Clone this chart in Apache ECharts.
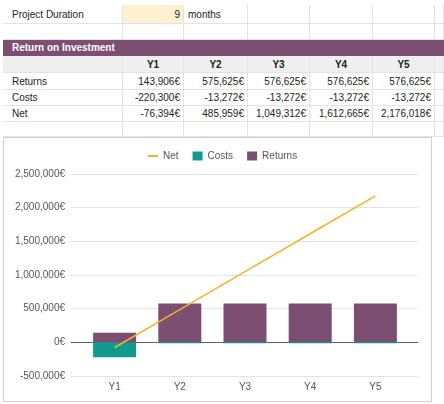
<!DOCTYPE html>
<html>
<head>
<meta charset="utf-8">
<script src="https://cdn.jsdelivr.net/npm/echarts@6/dist/echarts.min.js"></script>
<style>
  html, body { margin:0; padding:0; width:444px; height:404px; overflow:hidden; background:#fff; font-family:"Liberation Sans", Arial, sans-serif; }
  .cell { position:absolute; box-sizing:border-box; font-size:10px; color:#222; line-height:16px; white-space:nowrap; border-right:1px solid #e3e3e3; border-bottom:1px solid #e3e3e3; overflow:hidden; }
  #box { position:absolute; left:3px; top:137px; width:429px; height:265px; box-sizing:border-box; border:1px solid #cfcfcf; background:#fff; }
  #chart { position:absolute; left:0; top:0; width:444px; height:404px; }
</style>
</head>
<body>
<div id="sheet"></div>
<div id="box"></div>
<div id="chart"></div>
<script>
// ---- data ----
const categories = ['Y1', 'Y2', 'Y3', 'Y4', 'Y5'];
const returns = [143906, 575625, 576625, 576625, 576625];
const costs = [-220300, -13272, -13272, -13272, -13272];
const net = [-76394, 485959, 1049312, 1612665, 2176018];
const yTicks = [-500000, 0, 500000, 1000000, 1500000, 2000000, 2500000];
const projectDuration = 9;

const fmt = v => v.toLocaleString('en-US') + '€';

// ---- spreadsheet table ----
const colX = [3, 123, 184, 248, 310, 373, 435, 444];
const rowY = [5, 24, 40, 56, 73, 90, 106, 122, 137];
const sheet = document.getElementById('sheet');
function cell(c, r, text, style) {
  const d = document.createElement('div');
  d.className = 'cell';
  d.style.left = colX[c] + 'px';
  d.style.top = rowY[r] + 'px';
  d.style.width = (colX[c + 1] - colX[c]) + 'px';
  d.style.height = (rowY[r + 1] - rowY[r]) + 'px';
  d.style.lineHeight = (rowY[r + 1] - rowY[r]) + 'px';
  d.textContent = text;
  Object.assign(d.style, style || {});
  sheet.appendChild(d);
  return d;
}
const left = { textAlign:'left', paddingLeft:'9px' };
const right = { textAlign:'right', paddingRight:'3px' };
for (let r = 0; r < 8; r++) for (let c = 0; c < 7; c++) cell(c, r, '');
cell(0, 0, 'Project Duration', left);
cell(1, 0, String(projectDuration), Object.assign({ background:'#fdf1cf' }, right));
cell(2, 0, 'months', { paddingLeft:'4px' });
const hdr = document.createElement('div');
hdr.className = 'cell';
Object.assign(hdr.style, { left:'3px', top:rowY[2] + 'px', width:(colX[7] - 3) + 'px', height:(rowY[3] - rowY[2]) + 'px', lineHeight:(rowY[3] - rowY[2]) + 'px', background:'#7d4f73', color:'#fff', fontWeight:'bold', paddingLeft:'9px', border:'none' });
hdr.textContent = 'Return on Investment';
sheet.appendChild(hdr);
cell(0, 3, '', { background:'#efefef' });
categories.forEach((c, i) => cell(i + 1, 3, c, { background:'#efefef', fontWeight:'bold', textAlign:'center' }));
cell(6, 3, '', { background:'#efefef' });
cell(0, 4, 'Returns', left);
cell(0, 5, 'Costs', left);
cell(0, 6, 'Net', left);
categories.forEach((c, i) => {
  cell(i + 1, 4, fmt(returns[i]), right);
  cell(i + 1, 5, fmt(costs[i]), right);
  cell(i + 1, 6, fmt(net[i]), right);
});

// ---- chart ----
const chart = echarts.init(document.getElementById('chart'), null, { renderer:'canvas' });
const txt = { color:'#555', fontSize:10, fontFamily:'Liberation Sans, Arial, sans-serif' };
const yMin = yTicks[0], yMax = yTicks[yTicks.length - 1], yStep = yTicks[1] - yTicks[0];
chart.setOption({
  backgroundColor:'transparent',
  animation:false,
  legend: {
    top:146, left:143, itemGap:14, itemWidth:10, itemHeight:9,
    textStyle:txt,
    data:[
      { name:'Net', icon:'path://M0,0 L10,0 L10,2 L0,2 Z' },
      { name:'Costs', icon:'rect' },
      { name:'Returns', icon:'rect' }
    ]
  },
  grid: [
    { left:71, right:26, top:174, bottom:28 },
    { left:82, right:36, top:174, bottom:28 }
  ],
  xAxis: [
    { gridIndex:0, type:'value', min:0, max:1, axisLabel:{show:false}, axisTick:{show:false}, splitLine:{show:false},
      axisLine:{ show:true, onZero:true, lineStyle:{ color:'#5f5f5f', width:1 } } },
    { gridIndex:1, type:'category', data:categories, axisLine:{show:false}, axisTick:{show:false},
      axisLabel:Object.assign({ margin:6 }, txt) }
  ],
  yAxis: [
    { gridIndex:0, type:'value', min:yMin, max:yMax, interval:yStep,
      axisLine:{show:false}, axisTick:{show:false},
      axisLabel:Object.assign({ margin:6, formatter:v => fmt(v) }, txt),
      splitLine:{ lineStyle:{ color:'#e3e3e3' } } },
    { gridIndex:1, type:'value', min:yMin, max:yMax, interval:yStep, show:false, splitLine:{show:false} }
  ],
  series: [
    { name:'Returns', type:'bar', xAxisIndex:1, yAxisIndex:1, stack:'roi', data:returns, barWidth:43,
      itemStyle:{ color:'#7b4e72' } },
    { name:'Costs', type:'bar', xAxisIndex:1, yAxisIndex:1, stack:'roi', data:costs, barWidth:43,
      itemStyle:{ color:'#129a8e' } },
    { name:'Net', type:'line', xAxisIndex:1, yAxisIndex:1, data:net, symbol:'none', z:5,
      lineStyle:{ color:'#f0b429', width:1.5 }, itemStyle:{ color:'#f0b429' } }
  ]
});
</script>
</body>
</html>
